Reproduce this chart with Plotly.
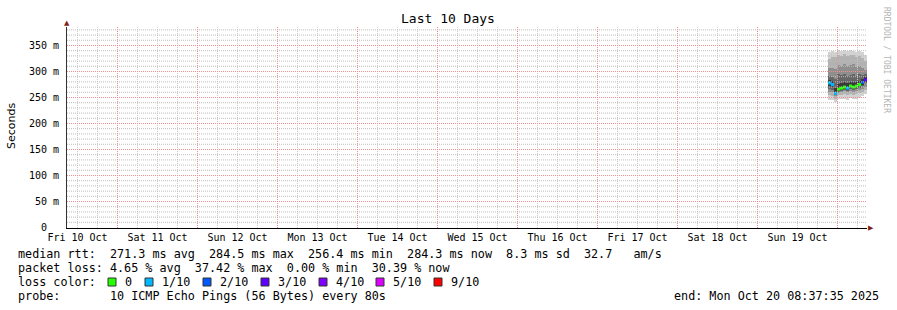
import plotly.graph_objects as go
import pandas as pd

# ---------------- data ----------------
times = ["2025-10-19 21:09", "2025-10-19 22:03", "2025-10-19 22:57", "2025-10-19 23:51",
         "2025-10-20 00:45", "2025-10-20 01:39", "2025-10-20 02:33", "2025-10-20 03:27",
         "2025-10-20 04:21", "2025-10-20 05:15", "2025-10-20 06:09", "2025-10-20 07:03",
         "2025-10-20 07:57"]
median_ms = [278, 275, 258, 266, 268, 270, 268, 272, 270, 272, 275, 279, 284]
loss_idx = [1, 1, 1, 0, 0, 0, 1, 0, 0, 0, 0, 2, 3]

# smoke layers: (low, high) per ping pair, outermost first
smoke_lo_1 = [246, 245, 242, 247, 247, 248, 246, 249, 248, 248, 250, 253, 256]
smoke_hi_1 = [337, 340, 338, 341, 340, 342, 339, 341, 340, 338, 339, 337, 332]
smoke_lo_2 = [254, 253, 248, 254, 255, 256, 254, 256, 255, 256, 258, 260, 264]
smoke_hi_2 = [324, 327, 328, 332, 330, 333, 329, 331, 332, 328, 329, 326, 320]
smoke_lo_3 = [261, 260, 252, 258, 260, 262, 260, 263, 261, 263, 265, 267, 271]
smoke_hi_3 = [306, 307, 305, 313, 311, 315, 310, 312, 314, 309, 311, 307, 303]
smoke_lo_4 = [267, 265, 254, 261, 263, 265, 263, 266, 264, 266, 269, 272, 277]
smoke_hi_4 = [292, 290, 285, 296, 293, 295, 292, 294, 296, 292, 295, 294, 296]
smoke_lo_5 = [272, 270, 256, 263, 265, 267, 265, 269, 267, 269, 272, 275, 280]
smoke_hi_5 = [284, 282, 268, 276, 277, 280, 277, 280, 280, 279, 282, 285, 289]

y_ticks = [0, 50, 100, 150, 200, 250, 300, 350]
y_tick_text = ["0  ", "50 m", "100 m", "150 m", "200 m", "250 m", "300 m", "350 m"]
y_minor = [10, 20, 30, 40, 60, 70, 80, 90, 110, 120, 130, 140, 160, 170, 180, 190,
           210, 220, 230, 240, 260, 270, 280, 290, 310, 320, 330, 340, 360, 370, 380]
day_noons = ["2025-10-10 12:00", "2025-10-11 12:00", "2025-10-12 12:00", "2025-10-13 12:00",
             "2025-10-14 12:00", "2025-10-15 12:00", "2025-10-16 12:00", "2025-10-17 12:00",
             "2025-10-18 12:00", "2025-10-19 12:00"]
day_labels = ["Fri 10 Oct", "Sat 11 Oct", "Sun 12 Oct", "Mon 13 Oct", "Tue 14 Oct",
              "Wed 15 Oct", "Thu 16 Oct", "Fri 17 Oct", "Sat 18 Oct", "Sun 19 Oct"]
midnights = ["2025-10-11 00:00", "2025-10-12 00:00", "2025-10-13 00:00", "2025-10-14 00:00",
             "2025-10-15 00:00", "2025-10-16 00:00", "2025-10-17 00:00", "2025-10-18 00:00",
             "2025-10-19 00:00", "2025-10-20 00:00"]
quarter_days = ["2025-10-10 12:00", "2025-10-10 18:00",
                "2025-10-11 06:00", "2025-10-11 12:00", "2025-10-11 18:00",
                "2025-10-12 06:00", "2025-10-12 12:00", "2025-10-12 18:00",
                "2025-10-13 06:00", "2025-10-13 12:00", "2025-10-13 18:00",
                "2025-10-14 06:00", "2025-10-14 12:00", "2025-10-14 18:00",
                "2025-10-15 06:00", "2025-10-15 12:00", "2025-10-15 18:00",
                "2025-10-16 06:00", "2025-10-16 12:00", "2025-10-16 18:00",
                "2025-10-17 06:00", "2025-10-17 12:00", "2025-10-17 18:00",
                "2025-10-18 06:00", "2025-10-18 12:00", "2025-10-18 18:00",
                "2025-10-19 06:00", "2025-10-19 12:00", "2025-10-19 18:00",
                "2025-10-20 06:00"]
x_range = ["2025-10-10 08:51:00", "2025-10-20 08:51:00"]
y_range = [-0.96, 385.58]

loss_labels = ["0", "1/10", "2/10", "3/10", "4/10", "5/10", "9/10"]
loss_colors = ["#26ff00", "#00b8ff", "#0059ff", "#5e00ff", "#7e00ff", "#dd00ff", "#ff0000"]

line1 = "median rtt:  271.3 ms avg  284.5 ms max  256.4 ms min  284.3 ms now  8.3 ms sd  32.7   am/s"
line2 = "packet loss: 4.65 % avg  37.42 % max  0.00 % min  30.39 % now"
line4 = "probe:       10 ICMP Echo Pings (56 Bytes) every 80s"
end_text = "end: Mon Oct 20 08:37:35 2025"

# ---------------- layout helpers ----------------
W, H = 897, 310
PL, PR, PT, PB = 67, 867, 27, 228
MONO = "DejaVu Sans Mono"
V_GREY = "#cccccc"
H_GREY = "#bdbdbd"
RED = "#eb9191"
DASH = "1px,1px"
ARROW = "#801f1f"


def px_x(p):
    return (p - PL) / (PR - PL)


def px_y(p):
    return (PB - p) / (PB - PT)


step = pd.Timedelta(minutes=54)
t = pd.to_datetime(times)
step_ms = step.total_seconds() * 1000

fig = go.Figure()

smoke = [(smoke_lo_1, smoke_hi_1, "#d2d2d2"), (smoke_lo_2, smoke_hi_2, "#b2b2b2"),
         (smoke_lo_3, smoke_hi_3, "#8e8e8e"), (smoke_lo_4, smoke_hi_4, "#666666"),
         (smoke_lo_5, smoke_hi_5, "#3a3a3a")]
for lo, hi, col in smoke:
    fig.add_trace(go.Bar(x=t, base=lo, y=[h - l for l, h in zip(lo, hi)], width=step_ms,
                         offset=0, marker=dict(color=col, line=dict(width=0)),
                         hoverinfo="skip", showlegend=False))

for k, col in enumerate(loss_colors):
    xs, ys = [], []
    for ti, m, li in zip(t, median_ms, loss_idx):
        if li == k:
            xs += [ti, ti + step, None]
            ys += [m, m, None]
    if xs:
        fig.add_trace(go.Scatter(x=xs, y=ys, mode="lines", line=dict(color=col, width=3),
                                 hoverinfo="skip", showlegend=False))

fig.update_layout(
    width=W, height=H,
    margin=dict(l=PL, r=W - PR, t=PT, b=H - PB, pad=0),
    paper_bgcolor="white", plot_bgcolor="white",
    barmode="overlay", bargap=0,
    showlegend=False, hovermode=False,
    font=dict(family=MONO, size=10, color="#000"),
    xaxis=dict(type="date", range=x_range, tickvals=day_noons,
               ticktext=day_labels, showgrid=False, ticks="",
               tickfont=dict(family=MONO, size=10, color="#000"),
               showline=True, linecolor="#000", linewidth=1, zeroline=False),
    yaxis=dict(range=y_range, tickvals=y_ticks, ticktext=y_tick_text, showgrid=False,
               ticks="", ticklabelstandoff=5,
               tickfont=dict(family=MONO, size=10, color="#000"),
               showline=True, linecolor="#333", linewidth=1, zeroline=False),
)

shapes = []
# grid lines (drawn over the smoke like RRDtool does)
for v in quarter_days:
    shapes.append(dict(type="line", xref="x", yref="paper", x0=v, x1=v, y0=0, y1=1,
                       layer="above", line=dict(color=V_GREY, width=1, dash=DASH)))
for v in y_minor:
    shapes.append(dict(type="line", xref="paper", yref="y", x0=0, x1=1, y0=v, y1=v,
                       layer="above", line=dict(color=H_GREY, width=1, dash=DASH)))
for v in midnights:
    shapes.append(dict(type="line", xref="x", yref="paper", x0=v, x1=v, y0=0, y1=1,
                       layer="above", line=dict(color=RED, width=1, dash=DASH)))
for v in y_ticks[1:]:
    shapes.append(dict(type="line", xref="paper", yref="y", x0=0, x1=1, y0=v, y1=v,
                       layer="above", line=dict(color=RED, width=1, dash=DASH)))

ann = []
ann.append(dict(text="Last 10 Days", x=px_x(448), y=px_y(19), xref="paper", yref="paper",
                xanchor="center", yanchor="middle", showarrow=False,
                font=dict(family=MONO, size=13, color="#000")))
ann.append(dict(text="Seconds", x=px_x(11), y=px_y(126), xref="paper", yref="paper",
                xanchor="center", yanchor="middle", showarrow=False, textangle=-90,
                font=dict(family="DejaVu Sans", size=11, color="#000")))
ann.append(dict(text="RRDTOOL / TOBI OETIKER", x=px_x(887), y=px_y(60), xref="paper",
                yref="paper", xanchor="center", yanchor="middle", showarrow=False,
                textangle=90, font=dict(family=MONO, size=8, color="#b4b4b4")))
# axis arrows
ann.append(dict(text="▲", x=px_x(67), y=px_y(23), xref="paper", yref="paper",
                xanchor="center", yanchor="middle", showarrow=False,
                font=dict(family="DejaVu Sans", size=7, color=ARROW)))
ann.append(dict(text="▶", x=px_x(871), y=px_y(228), xref="paper", yref="paper",
                xanchor="center", yanchor="middle", showarrow=False,
                font=dict(family="DejaVu Sans", size=7, color=ARROW)))

text_font = dict(family=MONO, size=11.75, color="#000")
for txt, yc in [(line1, 254), (line2, 268), ("loss color:", 282), (line4, 296)]:
    ann.append(dict(text=txt.replace(" ", "&nbsp;"), x=px_x(16), y=px_y(yc), xref="paper",
                    yref="paper", xanchor="left", yanchor="middle", showarrow=False,
                    font=text_font))
ann.append(dict(text=end_text.replace(" ", "&nbsp;"), x=px_x(881), y=px_y(296), xref="paper",
                yref="paper", xanchor="right", yanchor="middle", showarrow=False,
                font=text_font))

label_x = [123, 160, 218, 276, 334, 391, 449]
for lab, col, lx in zip(loss_labels, loss_colors, label_x):
    ann.append(dict(text=lab, x=px_x(lx), y=px_y(282), xref="paper", yref="paper",
                    xanchor="left", yanchor="middle", showarrow=False, font=text_font))
    shapes.append(dict(type="rect", xref="paper", yref="paper",
                       x0=px_x(lx - 15), x1=px_x(lx - 7), y0=px_y(286), y1=px_y(278),
                       fillcolor=col, line=dict(color="#333", width=1)))

fig.update_layout(annotations=ann, shapes=shapes)
fig.write_html("out.html")
